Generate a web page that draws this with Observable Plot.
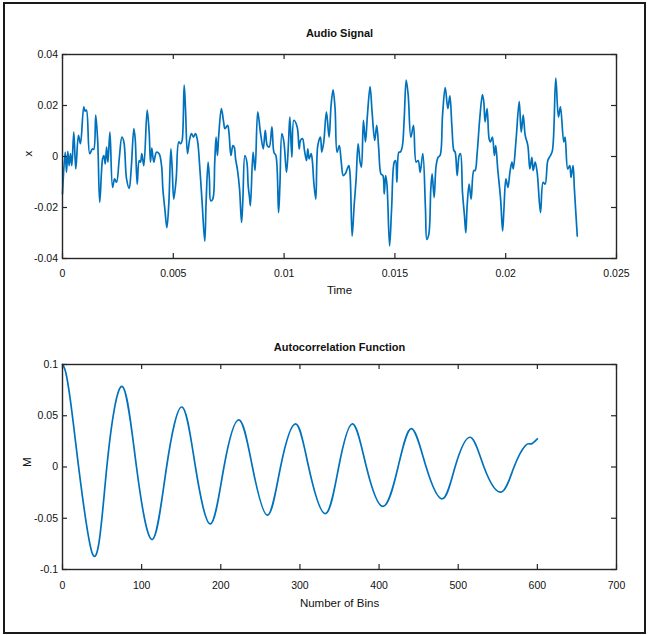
<!DOCTYPE html>
<html>
<head>
<meta charset="utf-8">
<script src="https://cdn.jsdelivr.net/npm/d3@7"></script>
<script src="https://cdn.jsdelivr.net/npm/@observablehq/plot@0.6"></script>
<style>
  html, body { margin: 0; padding: 0; background: #fff; }
  #wrap { position: relative; width: 648px; height: 635px; overflow: hidden; background: #fff; }
  #border { position: absolute; left: 3px; top: 2px; width: 643px; height: 632px; box-sizing: border-box; border: 2px solid #1a1a1a; }
  #p1 { position: absolute; left: 0; top: 0; }
  #p2 { position: absolute; left: 0; top: 317px; }
</style>
</head>
<body>
<div id="wrap">
  <div id="border"></div>
  <div id="p1"></div>
  <div id="p2"></div>
</div>
<script>
// ---- Audio signal (top panel) ----
const sigTime = [
  0, 0.00012, 0.00018, 0.00024, 0.00030, 0.00036, 0.00042, 0.00051, 0.00060, 0.00072,
  0.00081, 0.00096, 0.00102, 0.00108, 0.00123, 0.00135, 0.00141, 0.00150, 0.00159, 0.00168,
  0.00181, 0.00187, 0.00193, 0.00199, 0.00205, 0.00214, 0.00226, 0.00235, 0.00244, 0.00256,
  0.00268, 0.00277, 0.00289, 0.00301, 0.00310, 0.00322, 0.00328, 0.00337, 0.00346, 0.00352,
  0.00358, 0.00367, 0.00382, 0.00391, 0.00397, 0.00403, 0.00412, 0.00424, 0.00436, 0.00447,
  0.00453, 0.00462, 0.00471, 0.00480, 0.00489, 0.00495, 0.00502, 0.00513, 0.00525, 0.00534,
  0.00540, 0.00549, 0.00555, 0.00564, 0.00573, 0.00582, 0.00591, 0.00600, 0.00609, 0.00621,
  0.00630, 0.00642, 0.00648, 0.00657, 0.00663, 0.00669, 0.00678, 0.00687, 0.00693, 0.00699,
  0.00705, 0.00717, 0.00727, 0.00733, 0.00745, 0.00751, 0.00760, 0.00769, 0.00775, 0.00781,
  0.00790, 0.00799, 0.00808, 0.00814, 0.00823, 0.00832, 0.00838, 0.00844, 0.00848, 0.00860,
  0.00869, 0.00881, 0.00893, 0.00906, 0.00915, 0.00924, 0.00933, 0.00945, 0.00954, 0.00963,
  0.00975, 0.00981, 0.00990, 0.00999, 0.01011, 0.01020, 0.01026, 0.01035, 0.01044, 0.01059,
  0.01068, 0.01074, 0.01083, 0.01092, 0.01101, 0.01107, 0.01113, 0.01122, 0.01128, 0.01134,
  0.01143, 0.01152, 0.01164, 0.01170, 0.01179, 0.01191, 0.01203, 0.01212, 0.01221, 0.01230,
  0.01239, 0.01249, 0.01258, 0.01267, 0.01276, 0.01292, 0.01298, 0.01307, 0.01316, 0.01325,
  0.01334, 0.01343, 0.01349, 0.01358, 0.01367, 0.01376, 0.01388, 0.01397, 0.01409, 0.01418,
  0.01427, 0.01437, 0.01446, 0.01452, 0.01458, 0.01464, 0.01476, 0.01485, 0.01497, 0.01503,
  0.01509, 0.01518, 0.01524, 0.01533, 0.01542, 0.01551, 0.01560, 0.01572, 0.01584, 0.01596,
  0.01605, 0.01614, 0.01626, 0.01638, 0.01644, 0.01653, 0.01662, 0.01668, 0.01677, 0.01686,
  0.01695, 0.01704, 0.01715, 0.01727, 0.01739, 0.01748, 0.01757, 0.01766, 0.01772, 0.01781,
  0.01790, 0.01796, 0.01805, 0.01814, 0.01820, 0.01826, 0.01835, 0.01844, 0.01856, 0.01862,
  0.01871, 0.01883, 0.01895, 0.01901, 0.01907, 0.01916, 0.01925, 0.01931, 0.01940, 0.01949,
  0.01955, 0.01964, 0.01977, 0.01986, 0.01992, 0.02001, 0.02010, 0.02019, 0.02028, 0.02034,
  0.02046, 0.02061, 0.02070, 0.02079, 0.02088, 0.02100, 0.02109, 0.02118, 0.02124, 0.02133,
  0.02142, 0.02157, 0.02169, 0.02178, 0.02190, 0.02202, 0.02211, 0.02226, 0.02238, 0.02247,
  0.02262, 0.02268, 0.02280, 0.02289, 0.02295, 0.02304, 0.02310, 0.02323
];
const sigX = [
  -0.0147, 0.0017, -0.0062, 0.0020, -0.0036, 0.0011, -0.0036, 0.0096, -0.0049, 0.0083,
  0.0050, 0.0195, 0.0178, 0.0182, 0.0011, 0.0030, 0.0028, 0.0162, 0.0057, -0.0180,
  -0.0009, 0.0004, -0.0029, 0.0037, -0.0022, 0.0096, -0.0121, -0.0088, -0.0101, -0.0009,
  0.0076, 0.0057, -0.0088, -0.0125, -0.0049, 0.0109, 0.0070, -0.0108, -0.0016, -0.0022,
  0.0011, -0.0036, 0.0182, 0.0096, -0.0022, 0.0033, -0.0022, 0.0017, 0.0011, -0.0036,
  -0.0128, -0.0207, -0.0279, -0.0180, 0.0030, -0.0049, -0.0167, -0.0088, 0.0057, 0.0050,
  0.0063, 0.0280, 0.0188, 0.0011, 0.0063, 0.0090, 0.0076, 0.0090, 0.0063, -0.0062,
  -0.0180, -0.0332, -0.0180, -0.0022, -0.0088, -0.0174, -0.0167, -0.0022, 0.0076, 0.0004,
  0.0083, 0.0188, 0.0136, 0.0109, 0.0122, 0.0096, 0.0004, 0.0043, 0.0037, -0.0009,
  -0.0055, -0.0128, -0.0259, -0.0167, 0.0004, -0.0022, -0.0115, -0.0161, -0.0193, 0.0017,
  -0.0055, 0.0175, 0.0096, 0.0030, 0.0103, 0.0043, 0.0037, 0.0116, 0.0017, 0.0004,
  -0.0220, -0.0115, 0.0090, 0.0057, -0.0062, 0.0057, 0.0155, -0.0003, 0.0142, 0.0116,
  0.0030, 0.0063, 0.0070, 0.0024, -0.0016, 0.0030, -0.0009, 0.0011, -0.0022, -0.0101,
  -0.0167, 0.0043, 0.0076, 0.0017, 0.0057, 0.0175, 0.0076, 0.0201, 0.0261, 0.0188,
  0.0017, 0.0043, -0.0022, -0.0075, -0.0068, -0.0036, -0.0075, -0.0312, -0.0193, -0.0088,
  0.0050, -0.0022, -0.0042, 0.0142, 0.0057, 0.0162, 0.0274, 0.0175, 0.0063, 0.0122,
  0.0030, -0.0068, -0.0075, -0.0147, -0.0075, -0.0108, -0.0351, -0.0207, -0.0022, -0.0016,
  -0.0101, 0.0017, 0.0017, 0.0037, 0.0149, 0.0300, 0.0241, 0.0076, 0.0122, -0.0022,
  -0.0016, -0.0062, 0.0011, -0.0207, -0.0325, -0.0305, -0.0128, -0.0068, -0.0161, -0.0036,
  -0.0003, 0.0004, 0.0162, 0.0270, 0.0188, 0.0238, 0.0122, 0.0024, 0.0017, -0.0075,
  0.0004, 0.0011, -0.0141, -0.0233, -0.0299, -0.0193, -0.0108, -0.0167, -0.0055, -0.0055,
  0.0011, 0.0149, 0.0243, 0.0215, 0.0136, 0.0188, 0.0070, 0.0057, 0.0076, 0.0004,
  0.0043, -0.0049, -0.0167, -0.0292, -0.0207, -0.0088, -0.0121, -0.0062, -0.0022, -0.0049,
  0.0057, 0.0215, 0.0096, 0.0162, 0.0083, 0.0043, -0.0049, -0.0003, -0.0055, -0.0022,
  -0.0062, -0.0220, -0.0101, -0.0108, -0.0016, 0.0004, 0.0024, 0.0307, 0.0155, 0.0195,
  0.0057, 0.0076, -0.0049, -0.0036, -0.0082, -0.0036, -0.0128, -0.0312
];
const sigXTicks = [0, 0.005, 0.01, 0.015, 0.02, 0.025];
const sigYTicks = [-0.04, -0.02, 0, 0.02, 0.04];

// ---- Autocorrelation (bottom panel) ----
const acfBin = [
  0, 12, 38, 56, 75.5, 93.5, 113.5, 131.5, 151, 168,
  187, 204, 223, 240, 259, 275.5, 294.5, 311, 332, 349,
  366.5, 384, 405, 424, 441, 459.5, 480, 496, 515, 532.5,
  554, 570.5, 585, 592, 600
];
const acfVal = [
  0.1, 0.053, -0.085, 0, 0.0785, 0, -0.0707, 0, 0.0585, 0,
  -0.0555, 0, 0.046, 0, -0.047, 0, 0.042, 0, -0.0455, 0,
  0.042, 0, -0.0385, 0, 0.0375, 0, -0.031, 0, 0.029, 0,
  -0.0245, 0, 0.021, 0.0225, 0.0275
];
const acfXTicks = [0, 100, 200, 300, 400, 500, 600, 700];
const acfYTicks = [-0.1, -0.05, 0, 0.05, 0.1];

const FONT = '"Liberation Sans", Arial, sans-serif';
const INK = "#262626";
const LINE = "#0072BD";
const W = 648, ML = 62, MR = 32;

function panel(o) {
  const frameH = o.height - o.marginTop - o.marginBottom;
  const frameW = W - ML - MR;
  const data = o.xs.map((x, i) => ({x, y: o.ys[i]}));
  const fmt = d => String(d);
  return Plot.plot({
    width: W, height: o.height,
    marginLeft: ML, marginRight: MR, marginTop: o.marginTop, marginBottom: o.marginBottom,
    style: {fontFamily: FONT, fontSize: "10.5px", color: INK, background: "transparent", overflow: "visible"},
    x: {domain: o.xDomain},
    y: {domain: o.yDomain},
    marks: [
      Plot.line(data, {x: "x", y: "y", stroke: LINE, strokeWidth: 1.7, curve: o.curve}),
      Plot.tickX(o.xTicks, {x: d => d, insetTop: frameH - 5, stroke: INK, strokeWidth: 1.2}),
      Plot.tickX(o.xTicks, {x: d => d, insetBottom: frameH - 5, stroke: INK, strokeWidth: 1.2}),
      Plot.tickY(o.yTicks, {y: d => d, insetRight: frameW - 5, stroke: INK, strokeWidth: 1.2}),
      Plot.tickY(o.yTicks, {y: d => d, insetLeft: frameW - 5, stroke: INK, strokeWidth: 1.2}),
      Plot.frame({stroke: INK, strokeWidth: 1.4}),
      Plot.axisX(o.xTicks, {tickSize: 0, tickPadding: o.xPad, tickFormat: fmt, label: null, fontSize: 10.5, fill: "#111"}),
      Plot.axisY(o.yTicks, {tickSize: 0, tickPadding: 4.5, tickFormat: fmt, label: null, fontSize: 10.5, fill: "#111"}),
      Plot.text([o.title], {text: d => d, frameAnchor: "top", lineAnchor: "middle", dy: o.titleDy, fontWeight: "bold", fontSize: 11, fill: "#111"}),
      Plot.text([o.xLabel], {text: d => d, frameAnchor: "bottom", lineAnchor: "middle", dy: o.xLabelDy, fontSize: 11.5, fill: "#111"}),
      Plot.text([o.yLabel], {text: d => d, frameAnchor: "left", lineAnchor: "middle", dx: o.yLabelDx, rotate: -90, fontSize: 11.5, fill: "#111"})
    ]
  });
}

document.getElementById("p1").append(panel({
  xs: sigTime, ys: sigX,
  xDomain: [0, 0.025], yDomain: [-0.04, 0.04],
  xTicks: sigXTicks, yTicks: sigYTicks,
  title: "Audio Signal", xLabel: "Time", yLabel: "x",
  height: 317, marginTop: 54, marginBottom: 59,
  titleDy: -21, xLabelDy: 32, yLabelDx: -34, xPad: 11, curve: "catmull-rom"
}));

document.getElementById("p2").append(panel({
  xs: acfBin, ys: acfVal,
  xDomain: [0, 700], yDomain: [-0.1, 0.1],
  xTicks: acfXTicks, yTicks: acfYTicks,
  title: "Autocorrelation Function", xLabel: "Number of Bins", yLabel: "M",
  height: 318, marginTop: 47, marginBottom: 66,
  titleDy: -17, xLabelDy: 34, yLabelDx: -35, xPad: 12, curve: "natural"
}));
</script>
</body>
</html>
